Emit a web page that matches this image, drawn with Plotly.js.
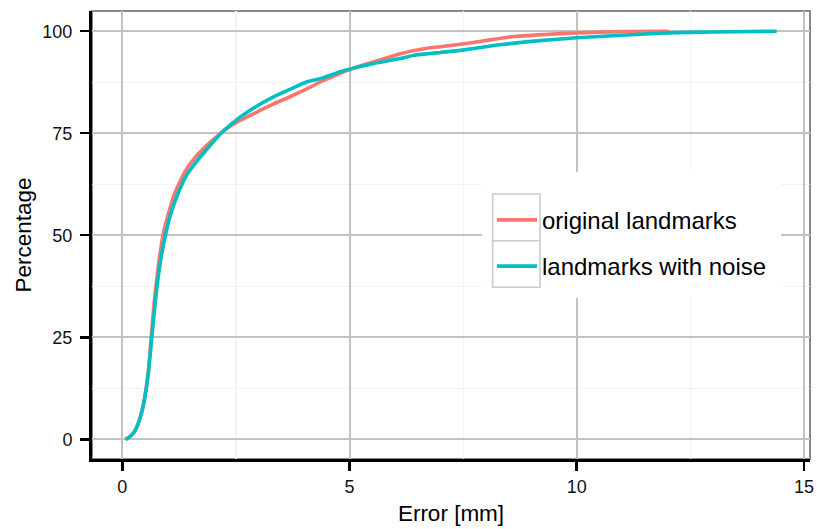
<!DOCTYPE html>
<html>
<head>
<meta charset="utf-8">
<script src="https://cdn.plot.ly/plotly-3.0.1.min.js"></script>
<style>html,body{margin:0;padding:0;background:#fff;}#chart{width:817px;height:529px;}</style>
</head>
<body>
<div id="chart"></div>
<script>
// Series names
var seriesNames = ["original landmarks", "landmarks with noise"];

// original landmarks (error in mm vs cumulative percentage)
var origX = [0.07, 0.15, 0.25, 0.32, 0.40, 0.47, 0.53, 0.58, 0.64, 0.71, 0.80, 0.90, 1.02, 1.15, 1.38, 1.60, 1.85, 2.05, 2.25, 2.60, 3.00, 3.33, 3.70, 4.07, 4.40, 4.80, 5.15, 5.54, 6.12, 6.64, 7.00, 7.44, 8.00, 8.62, 9.30, 10.0, 11.0, 12.03];
var origY = [0, 0.5, 1.6, 3.0, 5.6, 9.0, 13.0, 17.5, 25.5, 34.5, 43.0, 50.3, 55.5, 60.2, 65.6, 69.0, 71.9, 73.9, 75.8, 78.2, 80.4, 82.2, 84.0, 85.9, 87.8, 89.7, 91.2, 92.5, 94.5, 95.7, 96.2, 96.8, 97.7, 98.7, 99.2, 99.6, 99.9, 100];

// landmarks with noise
var noiseX = [0.07, 0.15, 0.25, 0.32, 0.40, 0.47, 0.53, 0.58, 0.65, 0.73, 0.82, 0.93, 1.06, 1.20, 1.42, 1.65, 1.87, 2.05, 2.23, 2.60, 3.00, 3.33, 3.70, 4.07, 4.40, 4.80, 5.15, 5.54, 6.12, 6.42, 7.00, 7.44, 8.25, 9.00, 10.0, 11.0, 12.0, 13.0, 14.4];
var noiseY = [0, 0.5, 1.6, 3.0, 5.5, 8.7, 12.5, 16.9, 25.1, 34.1, 42.2, 49.0, 55.0, 59.5, 64.8, 68.3, 71.2, 73.5, 75.6, 79.0, 81.9, 83.9, 85.8, 87.6, 88.5, 90.1, 91.1, 92.1, 93.3, 94.1, 94.8, 95.3, 96.6, 97.5, 98.4, 99.0, 99.6, 99.8, 100];

// Axis ticks
var xTicks = [0, 5, 10, 15];
var yTicks = [0, 25, 50, 75, 100];

var FONT = "Liberation Sans, Arial, Helvetica, sans-serif";
var colors = ["#F8766D", "#00BFC4"];

var traces = [
  {x: origX, y: origY, name: seriesNames[0], type: "scatter", mode: "lines",
   line: {color: colors[0], width: 3.6, shape: "spline", smoothing: 0.5}, legendgroup: "a"},
  {x: noiseX, y: noiseY, name: seriesNames[1], type: "scatter", mode: "lines",
   line: {color: colors[1], width: 3.6, shape: "spline", smoothing: 0.5}, legendgroup: "b"}
];

var layout = {
  width: 817, height: 529,
  margin: {l: 92, r: 7, t: 11, b: 70},
  paper_bgcolor: "#ffffff",
  plot_bgcolor: "#ffffff",
  font: {family: FONT, color: "#000000"},
  showlegend: true,
  legend: {
    x: 0.5571, y: 0.583, xanchor: "left", yanchor: "top",
    bgcolor: "rgba(0,0,0,0)", borderwidth: 0,
    font: {family: FONT, size: 24, color: "#000"},
    traceorder: "grouped", tracegroupgap: 12, itemwidth: 40
  },
  xaxis: {
    range: [-0.667, 15.134],
    tickvals: xTicks, ticktext: xTicks.map(String),
    showgrid: true, gridcolor: "#c2c2c2", gridwidth: 2,
    minor: {dtick: 2.5, tick0: 0, showgrid: true, gridcolor: "#f3f3f3", gridwidth: 1.2, ticks: ""},
    zeroline: false,
    showline: true, linecolor: "#000", linewidth: 3,
    ticks: "outside", ticklen: 9, tickwidth: 2.5, tickcolor: "#000",
    tickfont: {family: FONT, size: 18, color: "#111"},
    title: {text: "Error [mm]", font: {family: FONT, size: 22.5, color: "#000"}, standoff: 10}
  },
  yaxis: {
    range: [-4.83, 104.95],
    tickvals: yTicks, ticktext: yTicks.map(String),
    showgrid: true, gridcolor: "#c2c2c2", gridwidth: 2,
    minor: {dtick: 12.5, tick0: 0, showgrid: true, gridcolor: "#f3f3f3", gridwidth: 1.2, ticks: ""},
    zeroline: false,
    showline: true, linecolor: "#000", linewidth: 3,
    ticks: "outside", ticklen: 9, tickwidth: 2.5, tickcolor: "#000",
    ticklabelstandoff: 4,
    tickfont: {family: FONT, size: 18, color: "#111"},
    title: {text: "Percentage", font: {family: FONT, size: 22.5, color: "#000"}, standoff: 5}
  },
  shapes: [
    // panel border
    {type: "rect", xref: "paper", yref: "paper", x0: 0, x1: 1, y0: 0, y1: 1,
     line: {color: "#8a8a8a", width: 2}, fillcolor: "rgba(0,0,0,0)", layer: "below"},
    // legend background
    {type: "rect", xref: "paper", yref: "paper", x0: 0.5432, x1: 0.9596, y0: 0.3594, y1: 0.6406,
     line: {width: 0}, fillcolor: "#ffffff", layer: "above"},
    // legend key boxes
    {type: "rect", xref: "paper", yref: "paper", x0: 0.558, x1: 0.624, y0: 0.4873, y1: 0.5915,
     line: {color: "#cccccc", width: 1.6}, fillcolor: "#ffffff", layer: "above"},
    {type: "rect", xref: "paper", yref: "paper", x0: 0.558, x1: 0.624, y0: 0.3833, y1: 0.4873,
     line: {color: "#cccccc", width: 1.6}, fillcolor: "#ffffff", layer: "above"}
  ]
};

Plotly.newPlot("chart", traces, layout, {displayModeBar: false, staticPlot: true});
</script>
</body>
</html>
